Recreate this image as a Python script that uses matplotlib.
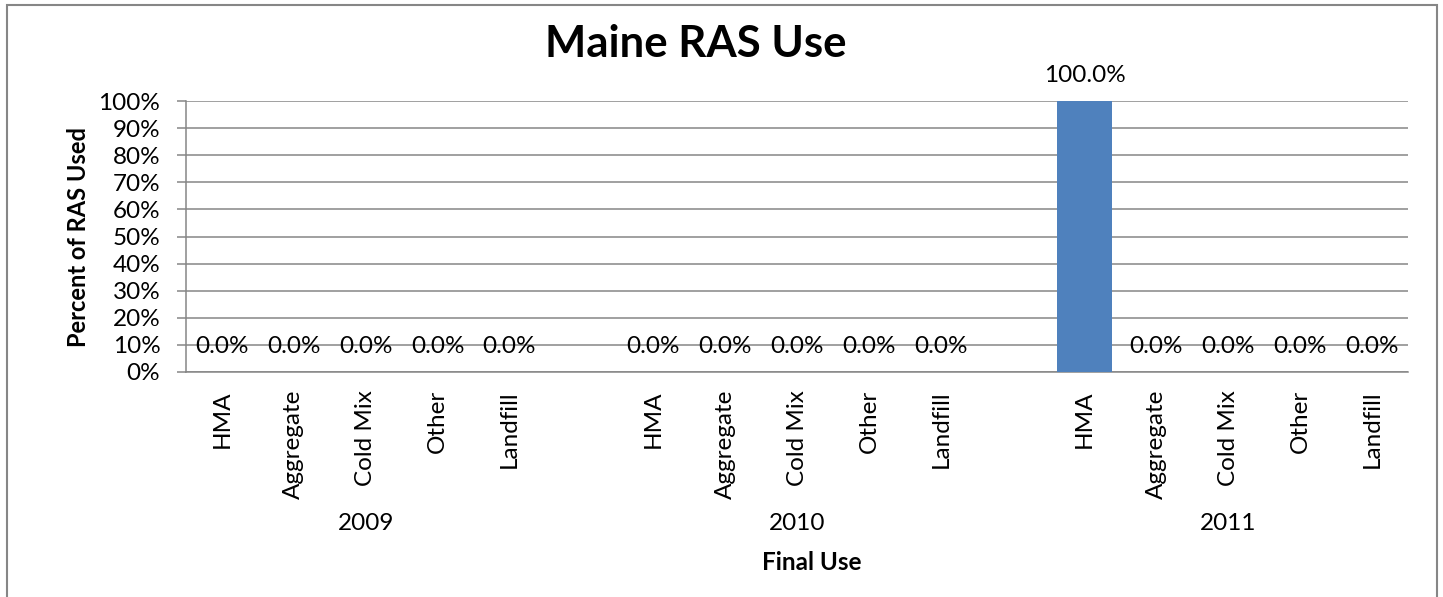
import matplotlib
matplotlib.use('Agg')
import matplotlib.pyplot as plt
import matplotlib.patches as patches
import matplotlib.transforms as mtransforms
import numpy as np

plt.rcParams['font.family'] = ['Lato', 'DejaVu Sans']

years = ['2009', '2010', '2011']
uses = ['HMA', 'Aggregate', 'Cold Mix', 'Other', 'Landfill']
pct_2009 = [0.0, 0.0, 0.0, 0.0, 0.0]
pct_2010 = [0.0, 0.0, 0.0, 0.0, 0.0]
pct_2011 = [100.0, 0.0, 0.0, 0.0, 0.0]
yticks = [0, 10, 20, 30, 40, 50, 60, 70, 80, 90, 100]

W, H = 1443, 597
grey = '#868686'
blue = '#4F81BD'
fs = 17.5

fig = plt.figure(figsize=(W / 100, H / 100), dpi=100)

# chart frame (bottom edge lies outside the picture)
frame = patches.Rectangle((7 / W, -0.05), (1437 - 7) / W, 1 - 5 / H + 0.05,
                          transform=fig.transFigure, fill=False,
                          edgecolor=grey, linewidth=1.5)
fig.patches.append(frame)

ax = fig.add_axes([186 / W, 1 - 372 / H, (1408 - 186) / W, (372 - 101) / H])

slot = len(uses) + 1
series = [pct_2009, pct_2010, pct_2011]
xpos, xlab = [], []
for g, vals in enumerate(series):
    x = np.arange(len(uses)) + g * slot
    ax.bar(x, vals, width=0.76, color=blue, zorder=3)
    for xi, v in zip(x, vals):
        ax.annotate('%.1f%%' % v, (xi, v), xytext=(0, 13.5), textcoords='offset points',
                    ha='center', va='baseline', fontsize=fs, zorder=4)
    xpos.extend(x)
    xlab.extend(uses)

ax.set_xlim(-0.5, len(series) * slot - 1.5)
ax.set_ylim(0, 100)
ax.set_yticks(yticks)
ax.set_yticklabels(['%d%%' % t for t in yticks], fontsize=fs)
ax.set_xticks(xpos)
ax.set_xticklabels(xlab, rotation=90, fontsize=fs, va='top')
ax.tick_params(axis='x', length=0, pad=13)
ax.tick_params(axis='y', length=6.5, width=1.1, color=grey, pad=12)
ax.yaxis.grid(True, color=grey, linewidth=1.1, zorder=0)
ax.set_axisbelow(True)
for s in ['top', 'right']:
    ax.spines[s].set_visible(False)
for s in ['left', 'bottom']:
    ax.spines[s].set_color(grey)
    ax.spines[s].set_linewidth(1.1)

# year labels under each group
trans = mtransforms.blended_transform_factory(ax.transData, fig.transFigure)
for g, yr in enumerate(years):
    ax.text(g * slot + (len(uses) - 1) / 2, 1 - 524 / H, yr, transform=trans,
            ha='center', va='center', fontsize=fs)

fig.text(696 / W, 1 - 44 / H, 'Maine RAS Use', ha='center', va='center',
         fontsize=31.5, fontweight='bold')
fig.text(78 / W, 1 - 237 / H, 'Percent of RAS Used', ha='center', va='center',
         rotation=90, fontsize=17, fontweight='bold')
fig.text(812 / W, 1 - 562 / H, 'Final Use', ha='center', va='center',
         fontsize=17.5, fontweight='bold')

fig.savefig('out.png', dpi=100)
